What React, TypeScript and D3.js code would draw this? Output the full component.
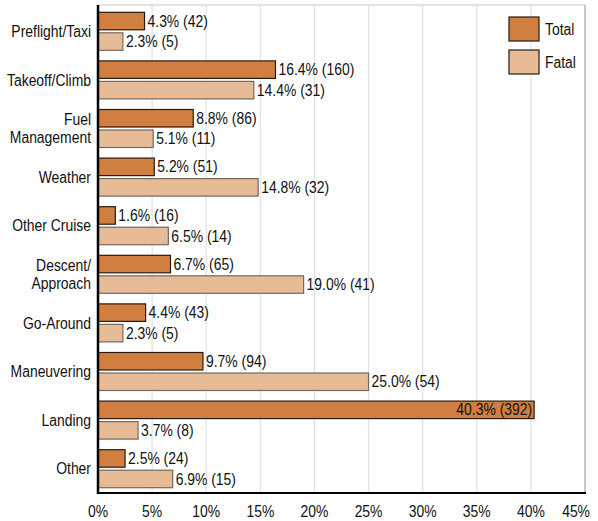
import React from "react"
import * as d3 from "d3"

const categories = ["Preflight/Taxi", "Takeoff/Climb", "Fuel\nManagement", "Weather", "Other Cruise", "Descent/\nApproach", "Go-Around", "Maneuvering", "Landing", "Other"]
const totalPct = [4.3, 16.4, 8.8, 5.2, 1.6, 6.7, 4.4, 9.7, 40.3, 2.5]
const totalCount = [42, 160, 86, 51, 16, 65, 43, 94, 392, 24]
const fatalPct = [2.3, 14.4, 5.1, 14.8, 6.5, 19.0, 2.3, 25.0, 3.7, 6.9]
const fatalCount = [5, 31, 11, 32, 14, 41, 5, 54, 8, 15]
const ticks = [0, 5, 10, 15, 20, 25, 30, 35, 40, 45]

const FONT = "'Liberation Sans', Arial, sans-serif"
const TOTAL_FILL = "#d07f40"
const FATAL_FILL = "#e8bb97"
const SX = 0.87

// narrow text: Liberation Sans squeezed horizontally
function NText({ x, y, anchor = "start", size = 16, children }: any) {
    return (
        <text transform={`translate(${x},${y}) scale(${SX},1)`} dy="0.35em" fontSize={size} textAnchor={anchor} fill="#111">
            {children}
        </text>
    )
}

export default function App() {
    const W = 598, H = 521
    const left = 98, right = 585, top = 5, bottom = 493

    const x = d3.scaleLinear().domain([0, 45]).range([left, right])
    const y = d3.scaleBand().domain(categories).range([7, 493]).padding(0)

    const barH = 17.5
    const gap = 1.5

    return (
        <svg width={W} height={H} style={{ position: "absolute", left: 0, top: 0, background: "#fff" }} fontFamily={FONT}>
            <rect x={0} y={0} width={W} height={H} fill="#fff" />
            {/* grid */}
            {ticks.slice(1).map((t) => (
                <line key={"g" + t} x1={x(t)} x2={x(t)} y1={top} y2={bottom} stroke="#e2e2e2" strokeWidth={1.2} />
            ))}
            <line x1={left} x2={right} y1={top} y2={top} stroke="#c8c8c8" strokeWidth={1} />
            <line x1={right} x2={right} y1={top} y2={bottom} stroke="#b0b0b0" strokeWidth={1.2} />

            {categories.map((c, i) => {
                const cy = (y(c) as number) + y.bandwidth() / 2
                const lines = c.split("\n")
                const tEnd = x(totalPct[i])
                const fEnd = x(fatalPct[i])
                const inside = totalPct[i] > 38
                return (
                    <g key={c}>
                        <rect x={left} y={cy - gap - barH} width={tEnd - left} height={barH} fill={TOTAL_FILL} stroke="#2a1a10" strokeWidth={1.2} />
                        <rect x={left} y={cy + gap} width={fEnd - left} height={barH} fill={FATAL_FILL} stroke="#6f6a66" strokeWidth={1.2} />
                        <NText x={inside ? tEnd - 2 : tEnd + 3} y={cy - gap - barH / 2} anchor={inside ? "end" : "start"}>
                            {`${totalPct[i].toFixed(1)}% (${totalCount[i]})`}
                        </NText>
                        <NText x={fEnd + 3} y={cy + gap + barH / 2}>
                            {`${fatalPct[i].toFixed(1)}% (${fatalCount[i]})`}
                        </NText>
                        {lines.map((l, j) => (
                            <NText key={j} x={91} y={cy + (j - (lines.length - 1) / 2) * 18} anchor="end">
                                {l}
                            </NText>
                        ))}
                    </g>
                )
            })}

            {/* axes */}
            <line x1={left} x2={left} y1={top} y2={bottom + 1} stroke="#000" strokeWidth={2.5} />
            <line x1={left - 1} x2={right + 1} y1={bottom} y2={bottom} stroke="#000" strokeWidth={2} />
            {ticks.map((t) => (
                <NText key={"t" + t} x={t === 45 ? 590 : x(t)} y={511} anchor={t === 45 ? "end" : "middle"}>
                    {t + "%"}
                </NText>
            ))}

            {/* legend */}
            <rect x={509} y={17} width={30} height={24} fill={TOTAL_FILL} stroke="#2a1a10" strokeWidth={1.2} />
            <NText x={545} y={29}>Total</NText>
            <rect x={509} y={50} width={30} height={24} fill={FATAL_FILL} stroke="#2a1a10" strokeWidth={1.2} />
            <NText x={545} y={62}>Fatal</NText>
        </svg>
    )
}
